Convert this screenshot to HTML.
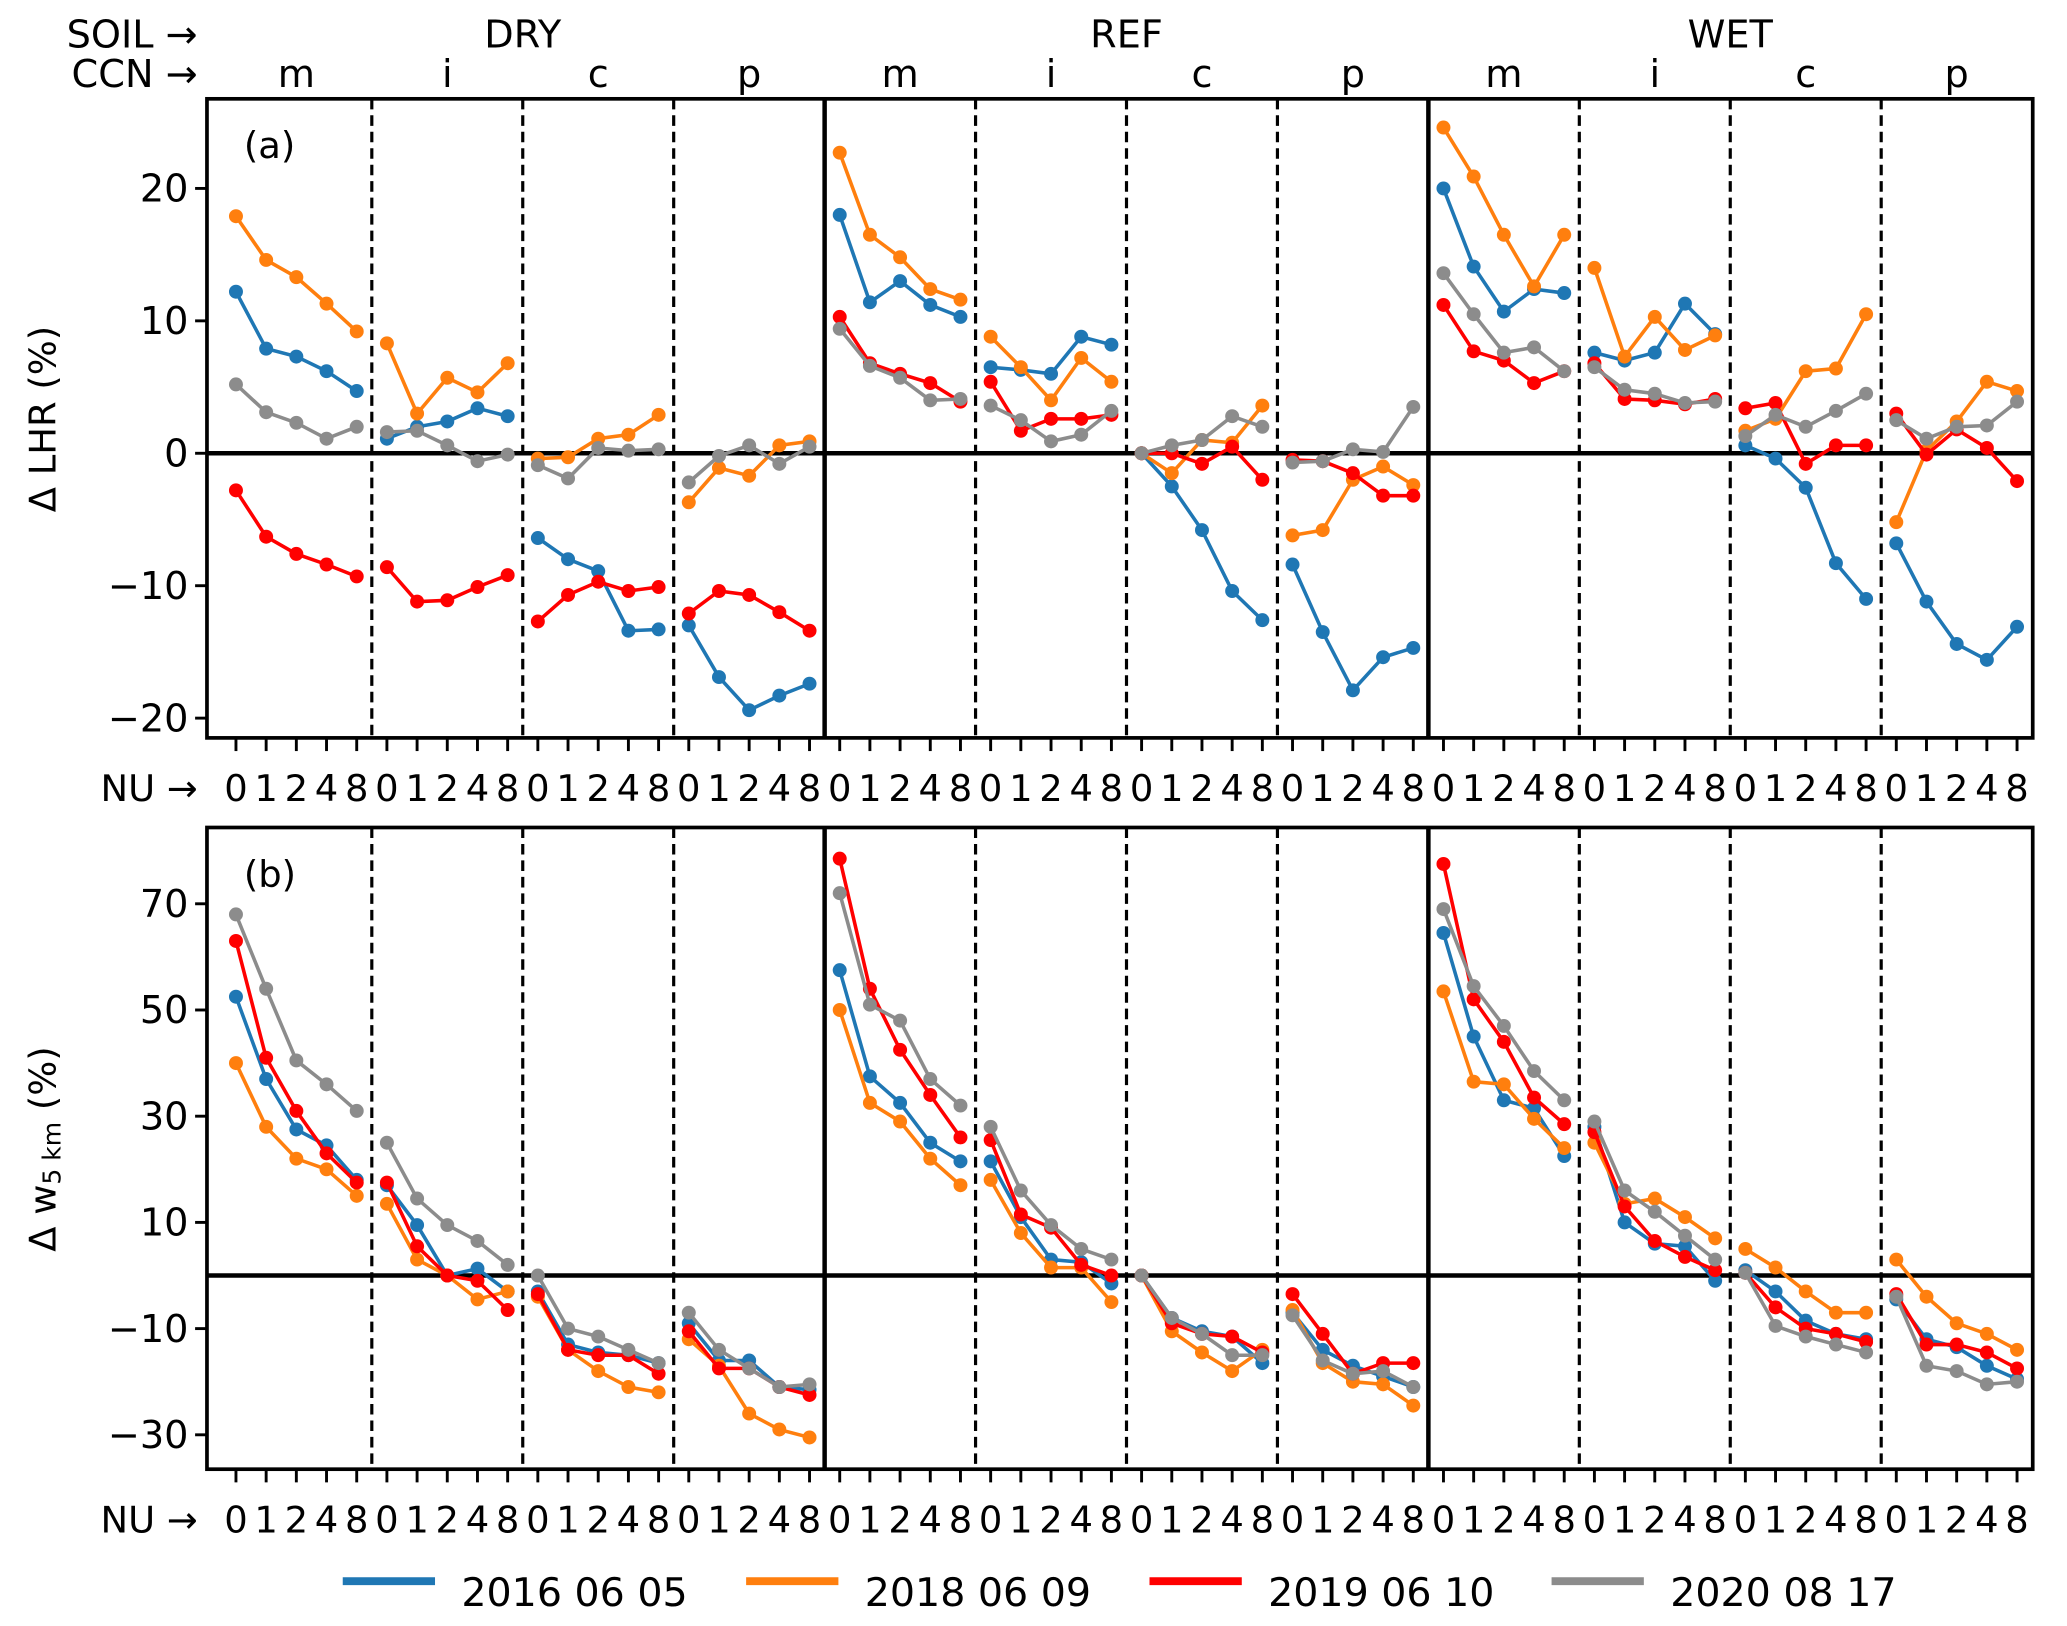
<!DOCTYPE html>
<html><head><meta charset="utf-8"><style>
html,body{margin:0;padding:0;background:#fff}
svg{display:block}
text{font-family:"DejaVu Sans","Liberation Sans",sans-serif;fill:#000}
</style></head><body>
<svg id="chart" width="2067" height="1626" viewBox="0 0 1568 1234" preserveAspectRatio="none" xmlns="http://www.w3.org/2000/svg">
<g id="axes"></g>
</svg>
<script>
const nuLabels = ["0","1","2","4","8"];
const ccnLabels = ["m","i","c","p"];
const soilLabels = ["DRY","REF","WET"];
const seriesNames = ["2016 06 05","2018 06 09","2019 06 10","2020 08 17"];
const seriesColors = ["#1f77b4","#ff7f0e","#ff0000","#8c8c8c"];
const ticksA = [20,10,0,-10,-20];
const ticksB = [70,50,30,10,-10,-30];
// panel (a) Δ LHR (%) – 60 values per series (DRY m,i,c,p | REF m,i,c,p | WET m,i,c,p)
const lhrBlue = [12.2,7.9,7.3,6.2,4.7, 1.1,2.0,2.4,3.4,2.8, -6.4,-8.0,-8.9,-13.4,-13.3, -13.0,-16.9,-19.4,-18.3,-17.4,
 18,11.4,13,11.2,10.3, 6.5,6.3,6.0,8.8,8.2, 0,-2.5,-5.8,-10.4,-12.6, -8.4,-13.5,-17.9,-15.4,-14.7,
 20,14.1,10.7,12.4,12.1, 7.6,7.0,7.6,11.3,9.0, 0.6,-0.4,-2.6,-8.3,-11.0, -6.8,-11.2,-14.4,-15.6,-13.1];
const lhrOrange = [17.9,14.6,13.3,11.3,9.2, 8.3,3.0,5.7,4.6,6.8, -0.4,-0.3,1.1,1.4,2.9, -3.7,-1.1,-1.7,0.6,0.9,
 22.7,16.5,14.8,12.4,11.6, 8.8,6.5,4.0,7.2,5.4, 0,-1.5,1.0,0.8,3.6, -6.2,-5.8,-2.0,-1.0,-2.4,
 24.6,20.9,16.5,12.6,16.5, 14.0,7.3,10.3,7.8,8.9, 1.7,2.6,6.2,6.4,10.5, -5.2,0.2,2.4,5.4,4.7];
const lhrRed = [-2.8,-6.3,-7.6,-8.4,-9.3, -8.6,-11.2,-11.1,-10.1,-9.2, -12.7,-10.7,-9.7,-10.4,-10.1, -12.1,-10.4,-10.7,-12.0,-13.4,
 10.3,6.8,6.0,5.3,3.9, 5.4,1.7,2.6,2.6,2.9, 0,0,-0.8,0.5,-2.0, -0.5,-0.6,-1.5,-3.2,-3.2,
 11.2,7.7,7.0,5.3,6.2, 6.8,4.1,4.0,3.7,4.1, 3.4,3.8,-0.8,0.6,0.6, 3.0,-0.1,1.8,0.4,-2.1];
const lhrGray = [5.2,3.1,2.3,1.1,2.0, 1.6,1.7,0.6,-0.6,-0.1, -0.9,-1.9,0.4,0.2,0.3, -2.2,-0.2,0.6,-0.8,0.5,
 9.4,6.6,5.7,4.0,4.1, 3.6,2.5,0.9,1.4,3.2, 0,0.6,1.0,2.8,2.0, -0.7,-0.6,0.3,0.1,3.5,
 13.6,10.5,7.6,8.0,6.2, 6.5,4.8,4.5,3.8,3.9, 1.3,2.9,2.0,3.2,4.5, 2.5,1.1,2.0,2.1,3.9];
// panel (b) Δ w5km (%)
const wBlue = [52.5,37,27.5,24.5,18, 17,9.5,0,1.3,-3, -3,-13,-14.5,-15,-16.5, -9,-16,-16,-21,-21.5,
 57.5,37.5,32.5,25,21.5, 21.5,11,3,2.5,-1.5, 0,-8,-10.5,-11.5,-16.5, -7,-14,-17,-19,-21,
 64.5,45,33,31.5,22.5, 28,10,6,5.5,-1, 1,-3,-8.5,-11,-12, -4.5,-12,-13.5,-17,-19.5];
const wOrange = [40,28,22,20,15, 13.5,3,0,-4.5,-3, -4,-14,-18,-21,-22, -12,-17,-26,-29,-30.5,
 50,32.5,29,22,17, 18,8,1.5,1.5,-5, 0,-10.5,-14.5,-18,-14, -6.5,-16.5,-20,-20.5,-24.5,
 53.5,36.5,36,29.5,24, 25,13.5,14.5,11,7, 5,1.5,-3,-7,-7, 3,-4,-9,-11,-14];
const wRed = [63,41,31,23,17.5, 17.5,5.5,0,-1,-6.5, -3.5,-14,-15,-15,-18.5, -10.5,-17.5,-17.5,-21,-22.5,
 78.5,54,42.5,34,26, 25.5,11.5,9,2,0, 0,-9,-11,-11.5,-14.5, -3.5,-11,-18.5,-16.5,-16.5,
 77.5,52,44,33.5,28.5, 27,13,6.5,3.5,1, 0.5,-6,-10,-11,-12.5, -3.5,-13,-13,-14.5,-17.5];
const wGray = [68,54,40.5,36,31, 25,14.5,9.5,6.5,2, 0,-10,-11.5,-14,-16.5, -7,-14,-17.5,-21,-20.5,
 72,51,48,37,32, 28,16,9.5,5,3, 0,-8,-11,-15,-15, -7.5,-16,-18.5,-18,-21,
 69,54.5,47,38.5,33, 29,16,12,7.5,3, 0.5,-9.5,-11.5,-13,-14.5, -4,-17,-18,-20.5,-20];

const NS="http://www.w3.org/2000/svg";
const root=document.getElementById('axes');
function mk(tag,attrs,parent){const e=document.createElementNS(NS,tag);for(const k in attrs)e.setAttribute(k,attrs[k]);(parent||root).appendChild(e);return e;}
const L=157,R=1542;
const xS=i=>179+22.9*i;
const panels=[
 {top:75,bot:560,y:v=>344-10.05*v,ticks:ticksA,data:[lhrBlue,lhrOrange,lhrRed,lhrGray],label:"(a)",nuY:608,name:"panel-a"},
 {top:628,bot:1115,y:v=>968-4.03*v,ticks:ticksB,data:[wBlue,wOrange,wRed,wGray],label:"(b)",nuY:1163,name:"panel-b"}
];
panels.forEach((p,pi)=>{
 const g=mk('g',{});
 
 
 const z=mk('line',{x1:L,x2:R,y1:p.y(0),y2:p.y(0),stroke:'#000','stroke-width':3.4},g);
 
 
 for(let s=1;s<12;s++){
  const xx=xS(s*5-0.5);
  const solid=s%4===0;
  const ln=mk('line',{x1:xx,x2:xx,y1:p.top,y2:p.bot,stroke:'#000','stroke-width':solid?3.4:2.4,'stroke-dasharray':solid?'none':'8,4.5'},g);
  
  
 }
 p.data.forEach((arr,si)=>{
  const sg=mk('g',{},g);
  
  
  for(let seg=0;seg<12;seg++){
   const pts=[];
   for(let k=0;k<5;k++){const i=seg*5+k;pts.push(xS(i).toFixed(1)+','+p.y(arr[i]).toFixed(1));}
   const pl=mk('polyline',{points:pts.join(' '),fill:'none',stroke:seriesColors[si],'stroke-width':2.7},sg);
   
   
   for(let k=0;k<5;k++){const i=seg*5+k;
    const c=mk('circle',{cx:xS(i),cy:p.y(arr[i]),r:5.3,fill:seriesColors[si]},sg);
    
    
   }
  }
 });
 const fr=mk('rect',{x:L,y:p.top,width:R-L,height:p.bot-p.top,fill:'none',stroke:'#000','stroke-width':2.8},g);
 
 
 p.ticks.forEach(t=>{
  const yy=p.y(t);
  const tl=mk('line',{x1:L-9,x2:L,y1:yy,y2:yy,stroke:'#000','stroke-width':2.2},g);
  
  
  const tx=mk('text',{x:L-14,y:yy+10,'text-anchor':'end','font-size':29},g);
  tx.textContent=(t<0?'\u2212'+(-t):String(t));
  
  
 });
 for(let i=0;i<60;i++){
  const xx=xS(i);
  const tl=mk('line',{x1:xx,x2:xx,y1:p.bot,y2:p.bot+10,stroke:'#000','stroke-width':2.2},g);
  
  
  const tx=mk('text',{x:xx,y:p.nuY,'text-anchor':'middle','font-size':28},g);
  tx.textContent=nuLabels[i%5];
  
  
 }
 const nu=mk('text',{x:150,y:p.nuY,'text-anchor':'end','font-size':28},g);
 nu.textContent='NU \u2192';
 
 
 const pl=mk('text',{x:185,y:p.top+45,'font-size':28},g);
 pl.textContent=p.label;
 
 
});
const soilT=mk('text',{x:150,y:36,'text-anchor':'end','font-size':29});
soilT.textContent='SOIL \u2192';


const ccnT=mk('text',{x:150,y:66,'text-anchor':'end','font-size':29});
ccnT.textContent='CCN \u2192';


soilLabels.forEach((s,k)=>{
 const t=mk('text',{x:xS(k*20+9.5),y:36,'text-anchor':'middle','font-size':29});
 t.textContent=s;
 
 
});
for(let gI=0;gI<12;gI++){
 const t=mk('text',{x:xS(gI*5+2),y:66,'text-anchor':'middle','font-size':29});
 t.textContent=ccnLabels[gI%4];
 
 
}
const ya=mk('text',{transform:'translate(42,318) rotate(-90)','text-anchor':'middle','font-size':28});
ya.textContent='\u0394 LHR (%)';


const yb=mk('text',{transform:'translate(42,872) rotate(-90)','text-anchor':'middle','font-size':28});
yb.innerHTML='\u0394 w<tspan font-size="19" dy="4">5 km</tspan><tspan dy="-4"> (%)</tspan>';


const lx=[260,566,872,1177];
seriesNames.forEach((n,k)=>{
 const lg=mk('g',{});
 
 
 mk('line',{x1:lx[k],x2:lx[k]+70,y1:1200,y2:1200,stroke:seriesColors[k],'stroke-width':6},lg);
 const t=mk('text',{x:lx[k]+90,y:1219,'font-size':30},lg);
 t.textContent=n;
});
</script>
</body></html>
